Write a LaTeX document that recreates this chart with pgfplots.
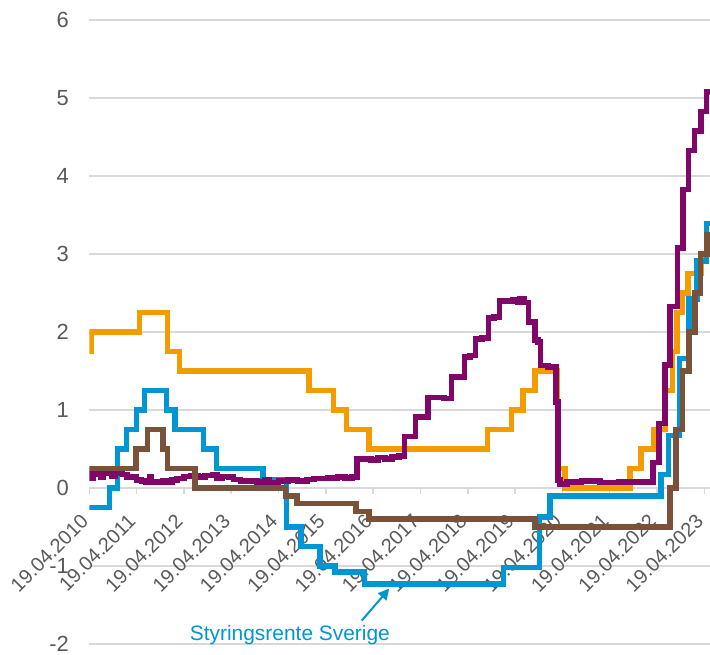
\documentclass[border=0pt]{standalone}
\usepackage{pgfplots}
\pgfplotsset{compat=1.18}
\usetikzlibrary{arrows.meta}
\usepackage{fontspec}
\setmainfont{Liberation Sans}
\definecolor{cOrange}{RGB}{243,156,0}
\definecolor{cBlue}{RGB}{0,150,212}
\definecolor{cPurple}{RGB}{128,6,106}
\definecolor{cBrown}{RGB}{122,82,57}
\definecolor{cGrid}{RGB}{217,217,217}
\definecolor{cText}{RGB}{89,89,89}
\begin{document}
\begin{tikzpicture}
\begin{axis}[
  scale only axis,
  width=620.7bp, height=624bp,
  xmin=0, xmax=13.12, ymin=-2, ymax=6,
  axis x line*=middle,
  axis y line*=left,
  y axis line style={draw=none},
  x axis line style={cGrid, line width=2bp},
  hide obscured x ticks=false,
  hide obscured y ticks=false,
  xtick={0,1,...,13},
  xticklabels={19.04.2010,19.04.2011,19.04.2012,19.04.2013,19.04.2014,19.04.2015,19.04.2016,19.04.2017,19.04.2018,19.04.2019,19.04.2020,19.04.2021,19.04.2022,19.04.2023},
  xtick style={cGrid, line width=1.5bp},
  major tick length=6bp,
  xtick align=outside,
  ytick={-2,-1,...,6},
  ytick style={draw=none},
  ymajorgrids,
  major grid style={cGrid, line width=2bp},
  yticklabel style={font=\fontsize{22}{26}\selectfont, text=cText, xshift=-17bp},
  xticklabel style={font=\fontsize{20}{24}\selectfont, text=cText, rotate=45, anchor=east, yshift=-13.6bp, xshift=-16.7bp},
  /pgf/number format/assume math mode=true,
  clip mode=individual,
  every axis plot/.append style={line width=5.5bp, const plot},
]
\coordinate (bl) at (rel axis cs:0,0);
\coordinate (tr) at (rel axis cs:1,1);
% Orange
\addplot[cOrange] coordinates {
(0,1.75) (0.047,2.0) (1.063,2.25) (1.655,1.75) (1.904,1.5) (4.647,1.25)
(5.164,1.0) (5.433,0.75) (5.912,0.5) (8.422,0.75) (8.921,1.0) (9.170,1.25)
(9.419,1.5) (9.901,1.0) (9.921,0.25) (10.052,0.0) (11.430,0.25) (11.660,0.5)
(11.929,0.75) (12.178,1.25) (12.332,1.75) (12.427,2.25) (12.542,2.5)
(12.658,2.75) (12.926,3.0) (13.12,3.0)
};
% Blue
\addplot[cBlue] coordinates {
(0,-0.25) (0.43,0.0) (0.60,0.5) (0.79,0.75) (1.00,1.0) (1.17,1.25) (1.63,1.0)
(1.81,0.75) (2.41,0.5) (2.69,0.25) (3.67,0.1) (4.17,-0.5) (4.47,-0.75)
(4.88,-1.0) (5.19,-1.08) (5.82,-1.23) (8.75,-1.02) (9.52,-0.37) (9.74,-0.1)
(12.08,0.17) (12.24,0.67) (12.48,1.66) (12.68,2.42) (12.85,2.91) (13.05,3.39)
(13.12,3.39)
};
% Purple
\addplot[cPurple] coordinates {
(0.00,0.18) (0.06,0.12) (0.09,0.19) (0.20,0.18) (0.25,0.14) (0.30,0.19)
(0.42,0.19) (0.48,0.15) (0.55,0.19) (0.70,0.17) (0.80,0.14) (0.90,0.15)
(1.00,0.10) (1.10,0.09) (1.20,0.07) (1.28,0.14) (1.32,0.08) (1.45,0.07)
(1.55,0.09) (1.65,0.07) (1.75,0.10) (1.85,0.12) (2.00,0.15) (2.15,0.16)
(2.30,0.14) (2.45,0.16) (2.60,0.17) (2.70,0.12) (2.80,0.15) (2.95,0.14)
(3.05,0.11) (3.20,0.09) (3.40,0.09) (3.55,0.08) (3.70,0.10) (3.80,0.07)
(4.00,0.09) (4.20,0.10) (4.40,0.09) (4.60,0.11) (4.75,0.12) (4.90,0.12)
(5.05,0.13) (5.25,0.14) (5.40,0.13) (5.55,0.14) (5.66,0.37) (5.80,0.37)
(5.95,0.36) (6.10,0.39) (6.25,0.37) (6.40,0.40) (6.55,0.41) (6.66,0.66)
(6.80,0.66) (6.90,0.91) (7.05,0.91) (7.16,1.16) (7.35,1.16) (7.50,1.15)
(7.66,1.42) (7.80,1.42) (7.93,1.68) (8.05,1.70) (8.16,1.91) (8.30,1.92)
(8.44,2.18) (8.55,2.19) (8.67,2.40) (8.80,2.40) (8.95,2.41) (9.05,2.38)
(9.10,2.42) (9.20,2.38) (9.28,2.12) (9.35,2.13) (9.42,1.90) (9.48,1.87)
(9.54,1.57) (9.70,1.55) (9.87,1.10) (9.91,0.10) (9.95,0.05) (10.10,0.08)
(10.40,0.09) (10.60,0.09) (10.80,0.07) (11.00,0.07) (11.20,0.08) (11.40,0.08)
(11.60,0.08) (11.75,0.08) (11.91,0.33) (12.04,0.83) (12.17,1.58) (12.27,2.33)
(12.43,3.08) (12.55,3.83) (12.67,4.33) (12.79,4.58) (12.93,4.83) (13.05,5.08)
(13.12,5.08)
};
% Brown
\addplot[cBrown] coordinates {
(0,0.25) (0.984,0.5) (1.233,0.75) (1.559,0.5) (1.655,0.25) (2.230,0.0)
(4.145,-0.1) (4.395,-0.2) (5.641,-0.3) (5.910,-0.4) (9.416,-0.5)
(12.271,0.0) (12.405,0.75) (12.540,1.5) (12.674,2.0) (12.808,2.5)
(12.923,3.0) (13.058,3.25) (13.12,3.25)
};
\node[text=cBlue, font=\fontsize{21}{25}\selectfont, anchor=base] at (axis cs:4.24,-1.958) {Styringsrente Sverige};
\draw[cBlue, line width=2bp, -{Triangle[length=11bp,width=11bp]}] (axis cs:5.76,-1.70) -- (axis cs:6.34,-1.29);
\end{axis}
\pgfresetboundingbox
\path ([shift={(-89.3bp,-11bp)}]bl) rectangle ([shift={(0bp,20bp)}]tr);
\end{tikzpicture}
\end{document}
